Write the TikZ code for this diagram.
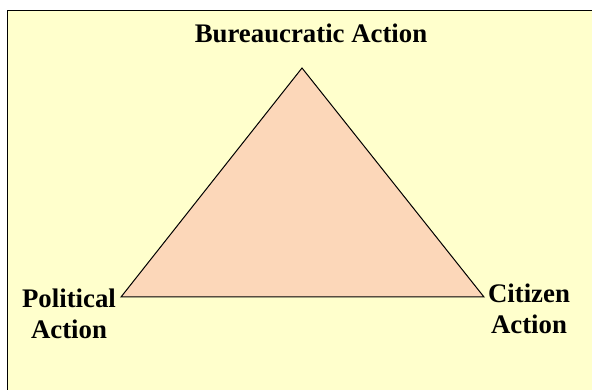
\documentclass[tikz,border=0pt]{standalone}
\usepackage{fontspec}
\setmainfont{Liberation Serif}
\usepackage{tikz}
\definecolor{paleyellow}{RGB}{255,255,204}
\definecolor{peach}{RGB}{252,215,185}

\begin{document}
\begin{tikzpicture}[x=1pt,y=-1pt,
  every node/.style={font=\fontsize{26.8}{31}\selectfont\bfseries,align=center,inner sep=0pt},
  frame/.style={draw=black,line width=1.6pt,fill=paleyellow}]
  \useasboundingbox (0,0) rectangle (592,390);
  \clip (0,0) rectangle (592,390);
  \draw[frame] (7.5,10.5) rectangle (610,410);
  \coordinate (top) at (302,68);
  \coordinate (left) at (121,297);
  \coordinate (right) at (484,297);
  \draw[line width=1pt,fill=peach,line join=miter] (top) -- (left) -- (right) -- cycle;
  % multi-line nodes: base is the last line
  \node[anchor=base] (bureau) at (311,43) {Bureaucratic Action};
  \node[anchor=base] (polit) at (69,338) {Political\\Action};
  \node[anchor=base] (citizen) at (529,333) {Citizen\\Action};
\end{tikzpicture}
\end{document}
